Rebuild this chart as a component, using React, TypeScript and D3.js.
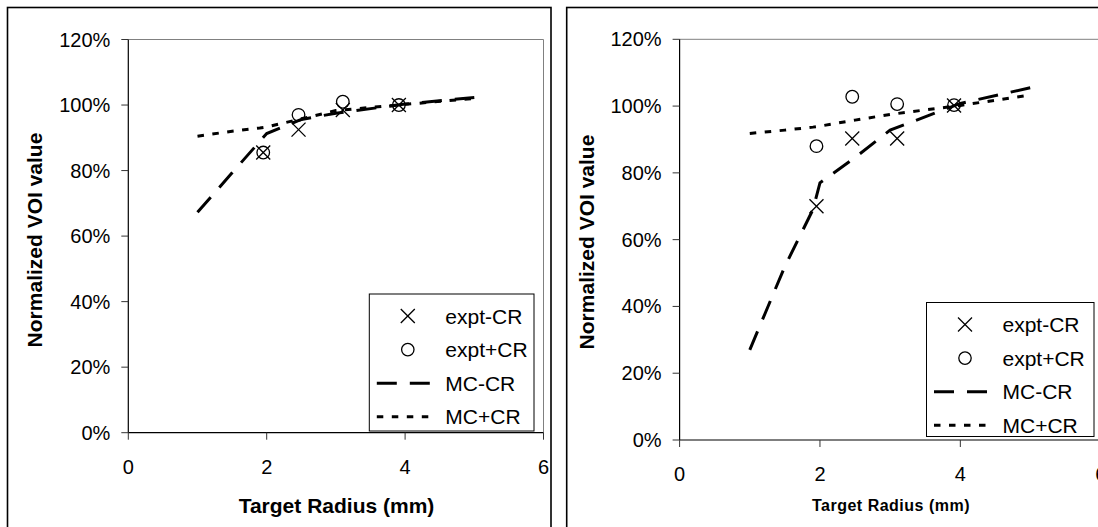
import React from 'react';
import * as d3 from 'd3';

// ---- data ----
const yTicks = [0, 20, 40, 60, 80, 100, 120];
const xTicks = [0, 2, 4, 6];
const legendLabels = ['expt-CR', 'expt+CR', 'MC-CR', 'MC+CR'];
const yAxisTitle = 'Normalized VOI value';
const xAxisTitle = 'Target Radius (mm)';

const exptX = [1.95, 2.46, 3.1, 3.91];
const mcX = [1, 1.5, 1.9, 2, 2.5, 3, 4, 5];

const leftExptMinus = [85.5, 92.5, 98.5, 100];
const leftExptPlus = [85.5, 97, 101, 100];
const leftMcMinus = [67.3, 79.3, 88.9, 91.3, 95.6, 97.5, 100.3, 102.3];
const leftMcPlus = [90.5, 92, 93, 93.3, 95.8, 98.3, 100.2, 102];

const rightExptMinus = [70, 90.3, 90.3, 100.2];
const rightExptPlus = [88, 102.8, 100.6, 100.3];
const rightMcMinus = [27, 52, 69, 77, 84.6, 92.8, 100.8, 105.5];
const rightMcPlus = [91.8, 92.8, 93.7, 94, 95.8, 97.5, 100.2, 103.3];

const FONT = "'Liberation Sans', Arial, Helvetica, sans-serif";
const DASH_LONG = '20 13';
const DASH_SHORT = '6.5 8.5';

type PanelProps = {
  frame: { x0: number; y0: number; x1: number; y1: number };
  plot: { x0: number; x1: number; top: number; bottom: number };
  yTitle: { x: number; y: number };
  xTitle: { x: number; y: number; size: number; spacing: number };
  legend: { x: number; y: number; w: number; h: number };
  exptMinus: number[];
  exptPlus: number[];
  mcMinus: number[];
  mcPlus: number[];
};

function Cross({ cx, cy, s }: { cx: number; cy: number; s: number }) {
  return (
    <g stroke="#000" strokeWidth={1.3}>
      <line x1={cx - s} y1={cy - s} x2={cx + s} y2={cy + s} />
      <line x1={cx - s} y1={cy + s} x2={cx + s} y2={cy - s} />
    </g>
  );
}

function Panel(p: PanelProps) {
  const x = d3.scaleLinear().domain([0, 6]).range([p.plot.x0, p.plot.x1]);
  const y = d3.scaleLinear().domain([0, 120]).range([p.plot.bottom, p.plot.top]);
  const line = d3
    .line<[number, number]>()
    .x((d) => x(d[0]))
    .y((d) => y(d[1]));
  const minusPts = mcX.map((v, i) => [v, p.mcMinus[i]] as [number, number]);
  const plusPts = mcX.map((v, i) => [v, p.mcPlus[i]] as [number, number]);
  const L = p.legend;
  const rowY = (i: number) => L.y + 22 + i * 33.6;
  const lineX0 = L.x + 7.5;
  const lineX1 = L.x + 61;
  const symX = L.x + 38.5;
  const textX = L.x + 76;

  return (
    <g fontFamily={FONT}>
      <rect
        x={p.frame.x0}
        y={p.frame.y0}
        width={p.frame.x1 - p.frame.x0}
        height={p.frame.y1 - p.frame.y0}
        fill="#fff"
        stroke="#000"
        strokeWidth={1.6}
      />
      {/* plot area border (top/right) */}
      <path
        d={`M${p.plot.x0},${p.plot.top}H${p.plot.x1}V${p.plot.bottom}`}
        fill="none"
        stroke="#808080"
        strokeWidth={1}
      />
      {/* axes */}
      <line x1={p.plot.x0} y1={p.plot.top} x2={p.plot.x0} y2={p.plot.bottom} stroke="#000" strokeWidth={1.2} />
      <line x1={p.plot.x0} y1={p.plot.bottom} x2={p.plot.x1} y2={p.plot.bottom} stroke="#000" strokeWidth={1.2} />
      {yTicks.map((t) => (
        <g key={'y' + t}>
          <line x1={p.plot.x0 - 7} x2={p.plot.x0} y1={y(t)} y2={y(t)} stroke="#333" strokeWidth={1} />
          <text x={p.plot.x0 - 18} y={y(t) + 7} textAnchor="end" fontSize={20} fill="#000">
            {t + '%'}
          </text>
        </g>
      ))}
      {xTicks.map((t) => (
        <g key={'x' + t}>
          <line x1={x(t)} x2={x(t)} y1={p.plot.bottom} y2={p.plot.bottom + 7} stroke="#333" strokeWidth={1} />
          <text x={x(t)} y={p.plot.bottom + 41} textAnchor="middle" fontSize={20} fill="#000">
            {t}
          </text>
        </g>
      ))}
      <text
        transform={`translate(${p.yTitle.x},${p.yTitle.y}) rotate(-90)`}
        textAnchor="middle"
        fontSize={21}
        fontWeight="bold"
      >
        {yAxisTitle}
      </text>
      <text
        x={p.xTitle.x}
        y={p.xTitle.y}
        textAnchor="middle"
        fontSize={p.xTitle.size}
        fontWeight="bold"
        letterSpacing={p.xTitle.spacing}
      >
        {xAxisTitle}
      </text>
      {/* series */}
      <path d={line(minusPts) || ''} fill="none" stroke="#000" strokeWidth={3} strokeDasharray={DASH_LONG} />
      <path d={line(plusPts) || ''} fill="none" stroke="#000" strokeWidth={3} strokeDasharray={DASH_SHORT} />
      {exptX.map((v, i) => (
        <circle key={'o' + i} cx={x(v)} cy={y(p.exptPlus[i])} r={6.3} fill="none" stroke="#000" strokeWidth={1.3} />
      ))}
      {exptX.map((v, i) => (
        <Cross key={'c' + i} cx={x(v)} cy={y(p.exptMinus[i])} s={7} />
      ))}
      {/* legend */}
      <rect x={L.x} y={L.y} width={L.w} height={L.h} fill="#fff" stroke="#000" strokeWidth={1} />
      <Cross cx={symX} cy={rowY(0)} s={7} />
      <circle cx={symX} cy={rowY(1)} r={6.2} fill="none" stroke="#000" strokeWidth={1.3} />
      <line x1={lineX0} x2={lineX1} y1={rowY(2)} y2={rowY(2)} stroke="#000" strokeWidth={3} strokeDasharray={DASH_LONG} />
      <line x1={lineX0} x2={lineX1} y1={rowY(3)} y2={rowY(3)} stroke="#000" strokeWidth={3} strokeDasharray={DASH_SHORT} />
      {legendLabels.map((lab, i) => (
        <text key={lab} x={textX} y={rowY(i) + 7.5} fontSize={21} fill="#000">
          {lab}
        </text>
      ))}
    </g>
  );
}

export default function App() {
  return (
    <svg
      width={1098}
      height={527}
      style={{ position: 'absolute', left: 0, top: 0, background: '#fff' }}
    >
      <rect x={0} y={0} width={1098} height={527} fill="#fff" />
      <Panel
        frame={{ x0: 7.5, y0: 7.5, x1: 551, y1: 540 }}
        plot={{ x0: 128.3, x1: 543.5, top: 39.5, bottom: 432.7 }}
        yTitle={{ x: 41.5, y: 240 }}
        xTitle={{ x: 336.5, y: 512.5, size: 21, spacing: 0 }}
        legend={{ x: 369.3, y: 294, w: 164.7, h: 137 }}
        exptMinus={leftExptMinus}
        exptPlus={leftExptPlus}
        mcMinus={leftMcMinus}
        mcPlus={leftMcPlus}
      />
      <Panel
        frame={{ x0: 566.7, y0: 7.5, x1: 1120, y1: 540 }}
        plot={{ x0: 679.6, x1: 1100.7, top: 39.3, bottom: 440 }}
        yTitle={{ x: 593.5, y: 242 }}
        xTitle={{ x: 891, y: 511, size: 16, spacing: 0.5 }}
        legend={{ x: 926.5, y: 302.5, w: 167.5, h: 134 }}
        exptMinus={rightExptMinus}
        exptPlus={rightExptPlus}
        mcMinus={rightMcMinus}
        mcPlus={rightMcPlus}
      />
    </svg>
  );
}
